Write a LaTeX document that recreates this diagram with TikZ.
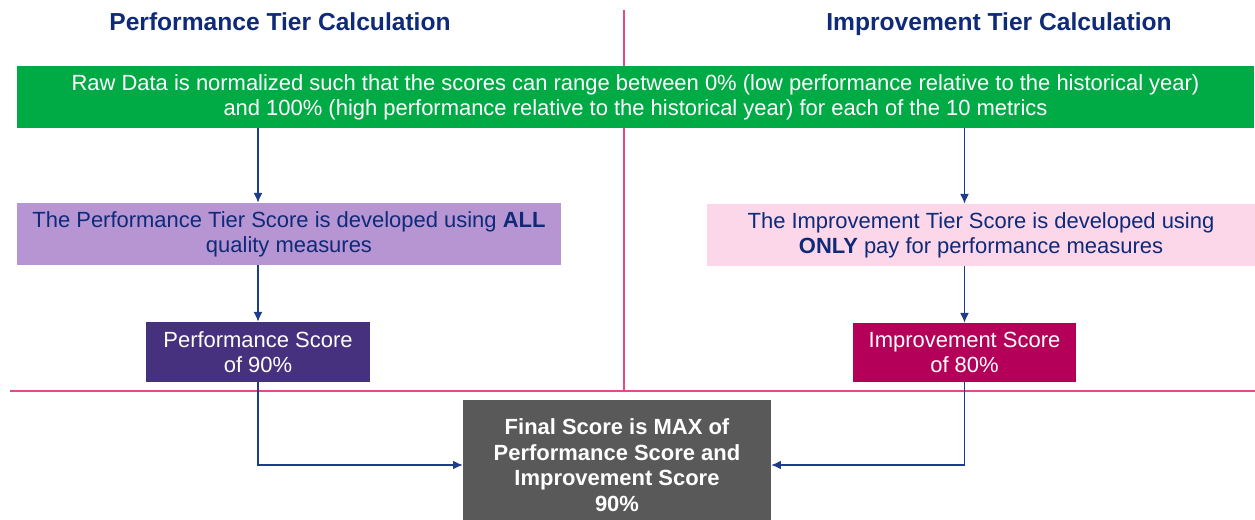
\documentclass[tikz,border=0pt]{standalone}
\usepackage{fontspec}
\setmainfont{Liberation Sans}
\usetikzlibrary{arrows.meta}
\definecolor{tierblue}{RGB}{14,42,120}
\definecolor{flowblue}{RGB}{30,60,140}
\definecolor{divpink}{RGB}{232,72,138}
\definecolor{rawgreen}{RGB}{0,170,68}
\definecolor{lilac}{RGB}{183,149,210}
\definecolor{blush}{RGB}{252,214,233}
\definecolor{plum}{RGB}{70,49,126}
\definecolor{berry}{RGB}{180,0,89}
\definecolor{slate}{RGB}{89,89,89}
\begin{document}
\begin{tikzpicture}[>={Latex[length=5.5pt,width=5pt]},x=0.02cm,y=-0.02cm,
  box/.style={rectangle,inner sep=0pt,align=center,font=\fontsize{12.5}{14.2}\selectfont},
  flow/.style={->,draw=flowblue,line width=0.65pt},
  title/.style={anchor=base,text=tierblue,font=\bfseries\fontsize{14}{16}\selectfont}]
\useasboundingbox (0,0) rectangle (1255,520);
\draw[divpink,line width=0.6pt] (624,10)--(624,391);
\draw[divpink,line width=0.6pt] (10,391)--(1255,391);

\node[title] (perftitle) at (280,31) {Performance Tier Calculation};
\node[title] (imptitle) at (999,31) {Improvement Tier Calculation};

\node[box,fill=rawgreen,text=white,minimum width=24.74cm,minimum height=1.24cm] (raw) at (635.5,97)
  {Raw Data is normalized such that the scores can range between 0\% (low performance relative to the historical year)\\
   and 100\% (high performance relative to the historical year) for each of the 10 metrics};

\node[box,fill=lilac,text=tierblue,minimum width=10.88cm,minimum height=1.24cm] (perftier) at (289,234)
  {The Performance Tier Score is developed using \textbf{ALL}\\ quality measures};
\node[box,fill=blush,text=tierblue,minimum width=10.96cm,minimum height=1.24cm] (imptier) at (981,235)
  {The Improvement Tier Score is developed using\\ \textbf{ONLY} pay for performance measures};

\node[box,fill=plum,text=white,minimum width=4.48cm,minimum height=1.2cm] (perfscore) at (258,352)
  {Performance Score\\ of 90\%};
\node[box,fill=berry,text=white,minimum width=4.46cm,minimum height=1.18cm] (impscore) at (964.5,352.5)
  {Improvement Score\\ of 80\%};

\node[box,fill=slate,text=white,font=\bfseries\fontsize{12.5}{14.6}\selectfont,minimum width=6.16cm,minimum height=2.6cm] (final) at (617,465)
  {Final Score is MAX of\\ Performance Score and\\ Improvement Score\\ 90\%};

\draw[flow] (raw.south -| perfscore) -- (perftier.north -| perfscore);
\draw[flow] (perftier.south -| perfscore) -- (perfscore.north);
\draw[flow] (raw.south -| impscore) -- (imptier.north -| impscore);
\draw[flow] (imptier.south -| impscore) -- (impscore.north);
\draw[flow] (perfscore.south) |- (final.west);
\draw[flow] (impscore.south) |- (final.east);
\end{tikzpicture}
\end{document}
